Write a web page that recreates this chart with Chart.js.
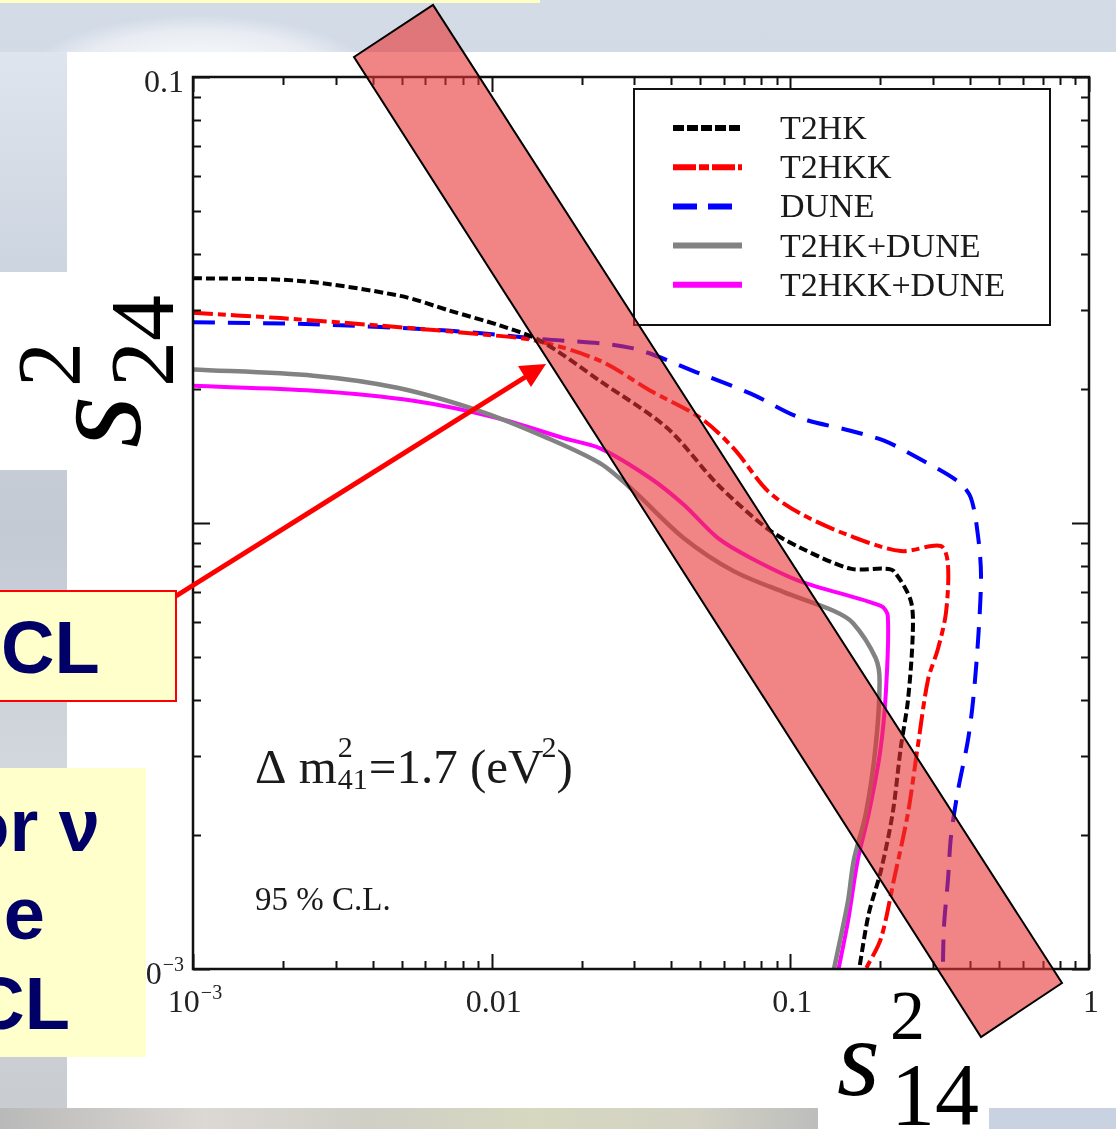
<!DOCTYPE html>
<html>
<head>
<meta charset="utf-8">
<script src="https://cdn.jsdelivr.net/npm/chart.js@4.4.1/dist/chart.umd.min.js"></script>
<style>
  html, body { margin: 0; padding: 0; }
  body {
    width: 1116px; height: 1129px; position: relative; overflow: hidden;
    background: linear-gradient(180deg, #d3dbe7 0%, #c8d2e1 100%);
  }
  .abs { position: absolute; }
  #glow { left: 0; top: 0; width: 640px; height: 60px;
    background: radial-gradient(ellipse 230px 80px at 200px 75px, rgba(255,255,255,0.95) 0%, rgba(255,255,255,0.5) 55%, rgba(255,255,255,0) 75%); }
  #leftimg { left: 0; top: 52px; width: 67px; height: 1056px;
    background: linear-gradient(180deg, #dfe5ee 0%, #cdd5e0 20%, #c3cad4 45%, #d4d8de 70%, #c9cdd2 100%); }
  #topstrip { left: 0; top: 0; width: 540px; height: 3px; background: #ffffc4; }
  #panel { left: 67px; top: 52px; width: 1049px; height: 1056px; background: #fff; }
  #s24box { left: 0; top: 272px; width: 67px; height: 198px; background: #fff; }
  #s14box { left: 818px; top: 1100px; width: 171px; height: 29px; background: #fff; }
  #bottom { left: 0; top: 1108px; width: 818px; height: 21px;
    background: linear-gradient(90deg, #b9b9b9 0%, #dcd8d4 25%, #cfcfc6 45%, #d6d8bf 65%, #d3d2c4 85%, #bdbdbd 100%); }
  #chartwrap { left: 0; top: 0; width: 1116px; height: 1129px; }
  .ybox { background: #ffffcc; }
  #box1 { left: -10px; top: 590px; width: 183px; height: 108px; border: 2px solid #ff0000; }
  #box2 { left: 0; top: 768px; width: 146px; height: 289px; }
  .bt { position: absolute; font-family: "Liberation Sans", Arial, sans-serif; font-weight: bold;
    font-size: 74px; line-height: 1; color: #000066; white-space: nowrap; }
  .math { position: absolute; font-family: "Liberation Serif", "Times New Roman", serif; line-height: 1;
    color: #000; white-space: nowrap; }
  #s24 { left: 0; top: 452px; width: 200px; height: 200px; transform: rotate(-90deg); transform-origin: 0 0; }
  svg { position: absolute; left: 0; top: 0; }
</style>
</head>
<body>
<div id="glow" class="abs"></div>
<div id="leftimg" class="abs"></div>
<div id="topstrip" class="abs"></div>
<div id="panel" class="abs"></div>
<div id="s24box" class="abs"></div>
<div id="bottom" class="abs"></div>
<div id="s14box" class="abs"></div>

<div id="chartwrap" class="abs"><canvas id="plot" width="1116" height="1129"></canvas></div>

<!-- axis labels of the slide -->
<div id="s24" class="abs">
  <span class="math" style="font-style:italic;font-size:135px;left:4px;top:27px;">s</span>
  <span class="math" style="font-size:90px;left:65px;top:5px;">2</span>
  <span class="math" style="font-size:92px;left:65px;top:96px;">24</span>
</div>
<span class="math" style="font-style:italic;font-size:110px;left:837px;top:1003px;">s</span>
<span class="math" style="font-size:70px;left:890px;top:981px;">2</span>
<span class="math" style="font-size:88px;left:891px;top:1051px;">14</span>

<!-- yellow text boxes -->
<div id="box1" class="abs ybox"></div>
<span class="bt" style="left:1px;top:611px;">CL</span>
<div id="box2" class="abs ybox"></div>
<span class="bt" style="right:1016px;top:789px;">or ν</span>
<span class="bt" style="right:1071px;top:877px;">e</span>
<span class="bt" style="right:1046px;top:967px;">CL</span>

<!-- arrow and highlight band -->
<svg width="1116" height="1129">
  <line x1="176" y1="596" x2="527" y2="376" stroke="#ff0000" stroke-width="5"/>
  <polygon points="546,364 518,366 531,387" fill="#ff0000"/>
  <polygon points="354,57 433,5 1062,983 981,1037" fill="rgba(232,50,50,0.6)" stroke="#000" stroke-width="2"/>
</svg>

<script>
const t2hkS14 = [0.001, 0.00228, 0.00494, 0.00727, 0.0107, 0.0146, 0.0231, 0.0388, 0.0571, 0.084, 0.108, 0.159, 0.206, 0.222, 0.253, 0.257, 0.2475, 0.2345, 0.220, 0.201, 0.183, 0.170];
const t2hkS24 = [0.0354, 0.0349, 0.0323, 0.0299, 0.0277, 0.0256, 0.0208, 0.0163, 0.0122, 0.0097, 0.0088, 0.0079, 0.0079, 0.0078, 0.0067, 0.00564, 0.00399, 0.00315, 0.00223, 0.00166, 0.00133, 0.001];

const t2hkkS14 = [0.001, 0.00196, 0.00424, 0.00917, 0.0142, 0.0231, 0.034, 0.050, 0.0646, 0.084, 0.108, 0.159, 0.2345, 0.319, 0.337, 0.332, 0.312, 0.289, 0.267, 0.2475, 0.222, 0.201, 0.179];
const t2hkkS24 = [0.0296, 0.0288, 0.0277, 0.0265, 0.0256, 0.0231, 0.0198, 0.0172, 0.0147, 0.0118, 0.0105, 0.00935, 0.00865, 0.00888, 0.00809, 0.00629, 0.00522, 0.00445, 0.00315, 0.00223, 0.00158, 0.00117, 0.001];

const duneS14 = [0.001, 0.00253, 0.0071, 0.0142, 0.0292, 0.050, 0.0737, 0.108, 0.159, 0.206, 0.267, 0.364, 0.402, 0.425, 0.435, 0.425, 0.409, 0.393, 0.364, 0.345, 0.337, 0.327, 0.324];
const duneS24 = [0.0282, 0.0279, 0.0270, 0.0259, 0.0247, 0.0216, 0.0195, 0.0172, 0.0161, 0.0153, 0.0140, 0.0124, 0.0114, 0.00935, 0.00761, 0.00544, 0.00399, 0.00325, 0.00251, 0.00198, 0.00158, 0.00125, 0.001];

const t2hkDuneS14 = [0.001, 0.00253, 0.00483, 0.00917, 0.0154, 0.0231, 0.0299, 0.0439, 0.0646, 0.095, 0.140, 0.162, 0.193, 0.199, 0.193, 0.179, 0.163, 0.156, 0.140];
const t2hkDuneS24 = [0.0221, 0.0214, 0.0201, 0.0178, 0.0155, 0.0136, 0.0118, 0.00926, 0.0078, 0.0070, 0.00635, 0.00597, 0.00498, 0.00442, 0.00315, 0.00223, 0.00175, 0.00142, 0.001];

const t2hkkDuneS14 = [0.001, 0.00253, 0.00547, 0.01045, 0.0174, 0.0231, 0.034, 0.0439, 0.0571, 0.0737, 0.108, 0.201, 0.212, 0.209, 0.200, 0.183, 0.168, 0.156, 0.145];
const t2hkkDuneS24 = [0.0203, 0.0198, 0.0188, 0.0172, 0.0155, 0.0147, 0.0126, 0.0110, 0.00926, 0.00835, 0.0074, 0.00652, 0.00619, 0.0042, 0.00308, 0.00223, 0.00175, 0.00128, 0.001];

const seriesNames = ['T2HK', 'T2HKK', 'DUNE', 'T2HK+DUNE', 'T2HKK+DUNE'];

// tick labels ("^" marks a superscript)
const xTickValues = [0.001, 0.01, 0.1, 1];
const xTickLabels = ['10^-3', '0.01', '0.1', '1'];
const yTickValues = [0.001, 0.1];
const yTickLabels = ['10^-3', '0.1'];

const serif = '"Liberation Serif", "Times New Roman", serif';

function pts(xs, ys) {
    return xs.map((x, i) => ({ x: x, y: ys[i] }));
}

// 刻度: 1..9 x 10^n
function logTicks(min, max) {
    const out = [];
    for (let e = Math.round(Math.log10(min)); e < Math.round(Math.log10(max)); e++) {
        for (let m = 1; m < 10; m++) out.push({ v: m * Math.pow(10, e), major: m === 1 });
    }
    out.push({ v: max, major: true });
    return out;
}

// text with an optional superscript part after "^"
function drawLabel(ctx, label, x, y, size, align) {
    const parts = label.split('^');
    ctx.font = size + 'px ' + serif;
    const w1 = ctx.measureText(parts[0]).width;
    let w2 = 0;
    const supSize = Math.round(size * 0.62);
    if (parts[1]) {
        ctx.font = supSize + 'px ' + serif;
        w2 = ctx.measureText(parts[1].replace('-', '\u2212')).width + 1;
    }
    const total = w1 + w2;
    let x0 = align === 'right' ? x - total : x - total / 2;
    ctx.textAlign = 'left';
    ctx.font = size + 'px ' + serif;
    ctx.fillText(parts[0], x0, y);
    if (parts[1]) {
        ctx.font = supSize + 'px ' + serif;
        ctx.fillText(parts[1].replace('-', '\u2212'), x0 + w1 + 1, y - size * 0.42);
    }
}

const framePlugin = {
    id: 'frame',
    afterDatasetsDraw(chart) {
        const { ctx, chartArea: a } = chart;
        const xs = chart.scales.x, ys = chart.scales.y;
        ctx.save();
        ctx.strokeStyle = '#111';
        ctx.lineWidth = 2.5;
        ctx.strokeRect(a.left, a.top, a.right - a.left, a.bottom - a.top);

        // inward ticks on all four sides
        ctx.lineWidth = 2;
        ctx.beginPath();
        logTicks(xs.min, xs.max).forEach(t => {
            const p = Math.round(xs.getPixelForValue(t.v)) + 0.5;
            const len = t.major ? 15 : 8;
            ctx.moveTo(p, a.bottom); ctx.lineTo(p, a.bottom - len);
            ctx.moveTo(p, a.top); ctx.lineTo(p, a.top + len);
        });
        logTicks(ys.min, ys.max).forEach(t => {
            const p = Math.round(ys.getPixelForValue(t.v)) + 0.5;
            const len = t.major ? 17 : 8;
            ctx.moveTo(a.left, p); ctx.lineTo(a.left + len, p);
            ctx.moveTo(a.right, p); ctx.lineTo(a.right - len, p);
        });
        ctx.stroke();

        // tick labels
        ctx.fillStyle = '#222';
        ctx.textBaseline = 'alphabetic';
        xTickValues.forEach((v, i) => {
            drawLabel(ctx, xTickLabels[i], xs.getPixelForValue(v) + 2, a.bottom + 43, 32, 'center');
        });
        yTickValues.forEach((v, i) => {
            drawLabel(ctx, yTickLabels[i], a.left - 9, ys.getPixelForValue(v) + 15, 32, 'right');
        });

        // notes inside the plot
        ctx.fillStyle = '#1a1a1a';
        ctx.textAlign = 'left';
        ctx.font = '49px ' + serif;
        let x0 = a.left + 62, base = 783;
        ctx.fillText('\u0394 m', x0, base);
        let w = ctx.measureText('\u0394 m').width;
        ctx.font = '30px ' + serif;
        ctx.fillText('2', x0 + w + 1, base - 26);
        ctx.fillText('41', x0 + w + 1, base + 6);
        w += ctx.measureText('41').width + 2;
        ctx.font = '49px ' + serif;
        ctx.fillText('=1.7 (eV', x0 + w, base);
        w += ctx.measureText('=1.7 (eV').width;
        ctx.font = '30px ' + serif;
        ctx.fillText('2', x0 + w - 2, base - 26);
        w += ctx.measureText('2').width - 2;
        ctx.font = '49px ' + serif;
        ctx.fillText(')', x0 + w, base);

        ctx.font = '33px ' + serif;
        ctx.fillText('95 % C.L.', a.left + 62, 910);

        // legend
        const lx = 634, ly = 89, lw = 416, lh = 236;
        ctx.fillStyle = '#fff';
        ctx.fillRect(lx, ly, lw, lh);
        ctx.strokeStyle = '#111';
        ctx.lineWidth = 2;
        ctx.strokeRect(lx, ly, lw, lh);
        chart.data.datasets.forEach((ds, i) => {
            const k = seriesNames.indexOf(ds.label);
            const yy = 128 + k * 39.2;
            ctx.save();
            ctx.strokeStyle = ds.borderColor;
            ctx.lineWidth = 6;
            ctx.setLineDash(ds.legendDash || []);
            ctx.beginPath();
            ctx.moveTo(673, yy); ctx.lineTo(742, yy);
            ctx.stroke();
            ctx.restore();
            ctx.fillStyle = '#1a1a1a';
            ctx.font = '34px ' + serif;
            ctx.fillText(ds.label, 780, yy + 11);
        });
        ctx.restore();
    }
};

const datasets = [
    { label: 'T2HK+DUNE', data: pts(t2hkDuneS14, t2hkDuneS24), borderColor: '#828282', borderWidth: 4.5, borderDash: [] },
    { label: 'T2HKK+DUNE', data: pts(t2hkkDuneS14, t2hkkDuneS24), borderColor: '#ff00ff', borderWidth: 4, borderDash: [] },
    { label: 'T2HK', data: pts(t2hkS14, t2hkS24), borderColor: '#000000', borderWidth: 4, borderDash: [9, 4], legendDash: [11, 3] },
    { label: 'T2HKK', data: pts(t2hkkS14, t2hkkS24), borderColor: '#ff0000', borderWidth: 4, borderDash: [20, 5, 8, 5], legendDash: [23, 3, 10, 3] },
    { label: 'DUNE', data: pts(duneS14, duneS24), borderColor: '#0000ff', borderWidth: 4, borderDash: [22, 13], legendDash: [24, 11] }
];
datasets.forEach(d => { d.showLine = true; d.pointRadius = 0; d.fill = false; d.tension = 0.3; });

const ctx = document.getElementById('plot').getContext('2d');
new Chart(ctx, {
    type: 'scatter',
    data: { datasets: datasets },
    options: {
        responsive: false,
        animation: false,
        devicePixelRatio: 1,
        layout: { padding: { left: 193, top: 77, right: 27, bottom: 160 } },
        scales: {
            x: { type: 'logarithmic', min: 0.001, max: 1, display: false },
            y: { type: 'logarithmic', min: 0.001, max: 0.1, display: false }
        },
        plugins: { legend: { display: false }, tooltip: { enabled: false } }
    },
    plugins: [framePlugin]
});
</script>
</body>
</html>
